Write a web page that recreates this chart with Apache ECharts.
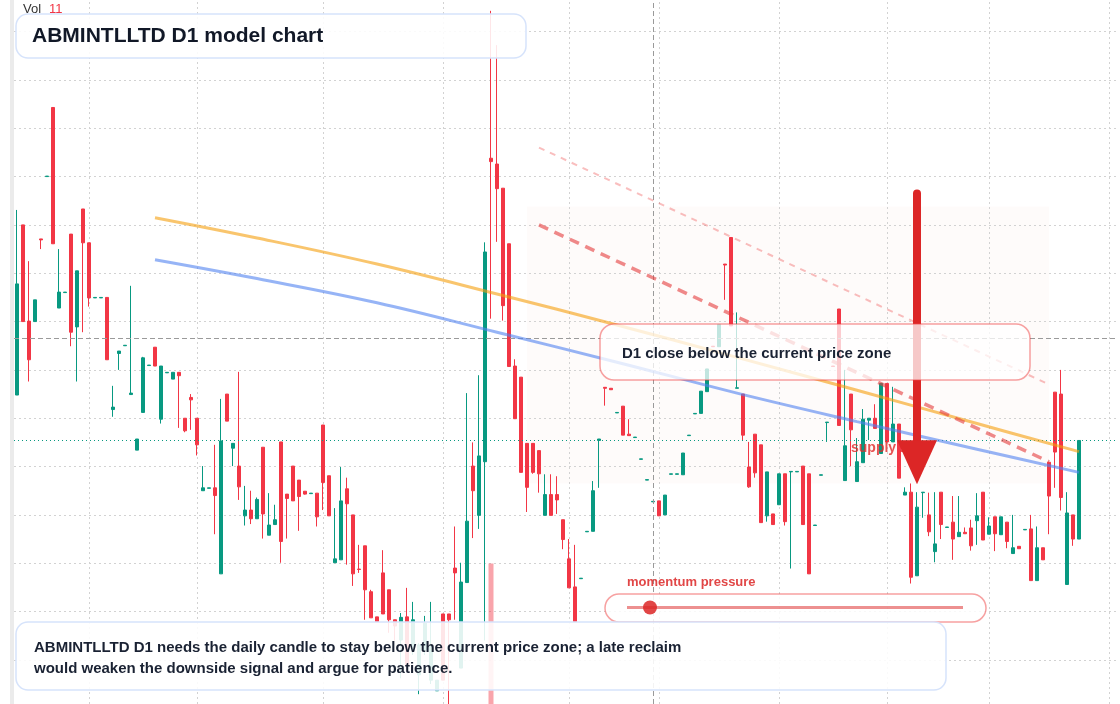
<!DOCTYPE html>
<html>
<head>
<meta charset="utf-8">
<title>ABMINTLLTD D1 model chart</title>
<script src="https://cdn.jsdelivr.net/npm/echarts@6/dist/echarts.min.js"></script>
<style>
  html, body { margin: 0; padding: 0; background: #fff; }
  #main { width: 1120px; height: 704px; }
</style>
</head>
<body>
<div id="main"></div>
<script>
// daily candles: [open, close, low, high]
var candles = [
  [56.48, 58.78, 56.48, 60.31], [60.00, 58.00, 58.00, 60.00], [58.01, 57.21, 56.76, 59.25], [58.00, 58.45, 58.00, 58.45],
  [59.71, 59.69, 59.50, 59.71], [61.00, 61.01, 61.00, 61.01], [62.43, 59.61, 59.61, 62.43], [58.28, 58.61, 58.28, 59.50],
  [58.60, 58.61, 58.60, 58.61], [59.81, 57.78, 57.49, 59.81], [57.89, 59.05, 56.76, 59.05], [60.33, 59.63, 57.78, 60.33],
  [59.63, 58.49, 58.31, 59.63], [58.49, 58.50, 58.49, 58.50], [58.49, 58.50, 58.49, 58.50], [58.50, 57.21, 57.21, 58.50],
  [56.18, 56.23, 56.03, 56.67], [57.34, 57.39, 57.00, 57.39], [57.50, 57.51, 57.50, 57.51], [56.49, 56.52, 56.49, 58.74],
  [55.34, 55.57, 55.34, 55.57], [56.12, 57.25, 56.12, 57.27], [57.09, 57.10, 57.09, 57.10], [57.47, 57.08, 57.08, 57.47],
  [55.98, 57.08, 55.89, 57.08], [56.94, 56.95, 56.94, 56.95], [56.81, 56.95, 56.81, 56.95], [56.95, 56.88, 55.80, 56.95],
  [56.00, 55.74, 55.71, 56.00], [56.43, 56.38, 55.76, 56.50], [56.00, 55.45, 55.23, 56.00], [54.50, 54.56, 54.50, 55.01],
  [54.55, 54.56, 54.55, 54.56], [54.56, 54.40, 53.60, 55.45], [52.78, 55.53, 52.78, 56.40], [56.50, 55.94, 55.94, 56.50],
  [55.38, 55.48, 55.01, 55.48], [55.01, 54.58, 54.31, 56.96], [53.98, 54.10, 53.78, 54.60], [54.10, 53.92, 53.81, 54.50],
  [53.92, 54.32, 53.92, 54.36], [55.40, 54.02, 53.51, 55.40], [53.58, 53.79, 53.58, 54.45], [53.80, 53.90, 53.80, 54.21],
  [55.51, 53.45, 53.01, 55.51], [54.43, 54.34, 53.51, 54.43], [55.01, 54.29, 54.29, 55.01], [54.72, 54.38, 53.67, 54.72],
  [54.49, 54.43, 54.42, 54.49], [54.44, 54.45, 54.44, 54.45], [54.45, 53.96, 53.76, 54.45], [55.86, 54.67, 54.10, 55.86],
  [54.81, 53.98, 53.98, 54.81], [53.01, 53.09, 53.01, 54.14], [53.07, 54.29, 53.07, 54.99], [54.54, 54.23, 52.97, 54.77],
  [54.00, 52.78, 52.53, 54.00], [52.88, 52.87, 52.80, 53.38], [53.36, 52.45, 51.83, 53.36], [52.41, 51.87, 51.87, 52.45],
  [51.89, 51.79, 51.79, 51.89], [52.80, 51.95, 51.95, 53.27], [52.45, 51.83, 51.56, 52.45], [51.83, 51.70, 51.40, 51.83],
  [51.41, 51.88, 50.62, 51.97], [51.89, 50.89, 50.80, 52.49], [51.20, 51.83, 51.10, 52.20], [50.69, 51.31, 50.29, 51.35],
  [51.20, 51.76, 51.10, 51.91], [50.58, 51.29, 50.50, 52.20], [50.36, 50.58, 50.36, 50.58], [51.95, 50.58, 50.58, 51.95],
  [51.95, 51.83, 50.05, 51.95], [52.90, 52.80, 51.83, 53.76], [50.83, 52.61, 50.83, 53.01], [52.60, 53.87, 52.60, 56.52],
  [55.01, 54.50, 53.52, 55.50], [53.99, 55.22, 53.71, 56.89], [55.10, 59.44, 51.40, 59.64], [61.38, 61.31, 58.06, 64.43],
  [61.26, 60.75, 59.65, 63.72], [60.76, 58.33, 58.02, 60.76], [59.61, 57.07, 57.07, 59.61], [57.08, 55.99, 55.99, 57.22],
  [56.85, 54.88, 54.88, 56.85], [55.48, 54.57, 54.06, 55.48], [55.48, 54.88, 54.85, 55.48], [55.33, 54.85, 54.46, 55.33],
  [53.99, 54.42, 53.99, 54.84], [54.42, 53.99, 53.99, 54.84], [54.42, 54.31, 54.02, 54.80], [53.90, 53.49, 53.29, 53.90],
  [53.09, 52.49, 52.49, 53.50], [52.51, 51.79, 51.79, 53.38], [52.68, 52.69, 52.68, 52.69], [53.65, 53.66, 53.65, 53.66],
  [53.66, 54.50, 53.66, 54.70], [55.54, 55.57, 54.56, 55.57], [56.64, 56.62, 56.26, 56.64], [56.62, 56.59, 56.59, 56.62],
  [56.11, 56.12, 56.11, 56.12], [56.25, 55.65, 55.65, 56.25], [55.67, 55.64, 55.64, 55.98], [55.60, 55.61, 55.60, 55.61],
  [55.15, 55.16, 55.15, 55.16], [54.72, 54.73, 54.72, 54.73], [54.27, 54.28, 54.27, 54.28], [54.29, 53.98, 53.98, 54.29],
  [54.00, 54.41, 54.00, 54.41], [54.84, 54.85, 54.84, 54.85], [54.84, 54.85, 54.84, 54.85], [54.83, 55.28, 54.83, 55.28],
  [55.64, 55.65, 55.64, 55.65], [56.09, 56.10, 56.09, 56.10], [56.10, 56.56, 56.10, 56.56], [56.55, 57.02, 56.55, 57.02],
  [57.49, 57.48, 57.48, 57.49], [57.48, 57.94, 57.48, 57.94], [59.19, 59.17, 58.45, 59.19], [59.74, 57.91, 57.91, 59.74],
  [56.62, 56.63, 56.62, 58.19], [56.50, 55.65, 55.55, 56.50], [54.99, 54.58, 54.56, 55.51], [55.67, 54.87, 54.77, 55.67],
  [55.45, 53.84, 53.84, 55.45], [53.98, 54.89, 53.86, 54.89], [54.02, 53.80, 53.80, 54.02], [54.21, 54.85, 54.21, 54.85],
  [54.85, 53.86, 53.78, 54.85], [54.89, 54.90, 52.89, 54.90], [54.89, 54.90, 54.89, 54.90], [55.01, 53.80, 53.80, 55.01],
  [54.85, 52.78, 52.78, 54.85], [53.78, 53.79, 53.78, 53.79], [54.82, 54.83, 54.82, 54.83], [55.91, 55.92, 55.51, 55.92],
  [57.08, 57.07, 57.07, 57.08], [58.26, 55.85, 55.85, 58.26], [54.71, 55.43, 54.71, 57.00], [56.50, 55.76, 55.01, 56.50],
  [54.69, 55.10, 54.69, 55.59], [55.08, 55.98, 55.08, 56.19], [55.96, 56.00, 55.55, 56.00], [56.00, 55.79, 55.79, 56.29],
  [55.27, 56.72, 55.27, 56.72], [56.72, 55.51, 55.51, 56.72], [55.51, 55.88, 55.51, 56.65], [55.88, 54.76, 54.76, 55.88],
  [54.41, 54.47, 54.41, 54.57], [54.47, 52.71, 52.58, 54.65], [52.74, 54.16, 52.74, 54.47], [54.46, 54.47, 53.94, 54.47],
  [54.00, 53.65, 53.56, 54.46], [53.24, 53.40, 53.02, 54.47], [54.47, 53.80, 53.50, 54.47], [53.74, 53.75, 53.74, 53.75],
  [53.85, 53.50, 53.07, 54.39], [53.55, 53.64, 53.55, 54.39], [53.64, 53.61, 53.61, 53.74], [53.73, 53.36, 53.26, 53.90],
  [53.88, 53.98, 53.38, 54.45], [54.47, 53.48, 53.48, 54.47], [53.60, 53.77, 53.60, 53.95], [53.96, 53.61, 53.25, 53.96],
  [53.59, 53.96, 53.59, 53.96], [53.85, 53.45, 53.31, 53.85], [53.20, 53.32, 53.20, 54.00], [53.35, 53.30, 53.30, 53.35],
  [53.69, 53.70, 53.69, 53.70], [53.71, 52.64, 52.64, 54.00], [52.64, 53.32, 52.64, 53.76], [53.32, 53.07, 53.07, 53.32],
  [55.09, 54.39, 53.60, 55.09], [56.54, 55.30, 54.56, 56.54], [56.50, 54.36, 54.09, 57.00], [52.56, 54.04, 52.56, 54.47],
  [54.00, 53.50, 53.36, 54.00], [53.50, 55.54, 53.50, 55.54]
];

// 184 daily slots, the last few are empty space on the right
var days = [];
for (var d = 0; d < 184; d++) days.push('d' + d);

// month boundaries on the time scale (category index)
var monthTicks = [12, 30, 51, 71, 92, 107, 127, 145, 162, 182];
// price grid levels
var priceTicks = [51, 52, 53, 54, 55, 56, 57, 58, 59, 60, 61, 62, 63, 64];
// visible price window
var priceMin = 50.087, priceMax = 64.654;

// volume histogram, only the spike reaches into view
var volume = [[79, 68.9]];

// smoothed averages, [index, price]
var maSlow = [[23, 60.15], [40, 59.73], [60, 59.19], [80, 58.57], [100, 57.93], [120, 57.26], [140, 56.58], [160, 55.89], [177, 55.31]];
var maFast = [[23, 59.28], [40, 58.89], [60, 58.39], [80, 57.78], [100, 57.16], [120, 56.52], [140, 55.93], [160, 55.36], [177, 54.88]];

// descending channel
var channelTop = [[87, 61.60], [172, 56.70]];
var channelMid = [[87, 60.00], [172, 55.10]];

// supply zone and signal arrow
var zoneX = [85, 172];
var zoneY = [54.65, 60.38];
var arrowX = 150;
var arrowY = [60.65, 55.09];

var crossIdx = 106;
var crossPrice = 57.66;
var lastPrice = 55.54;

var UP = '#089981', DOWN = '#f23645';
var GRID = { color: '#d2d2d2', type: [2, 3], width: 1 };
var FONT = '"Liberation Sans", Arial, sans-serif';

var hiddenCat = {
  type: 'category', data: days, boundaryGap: true,
  axisLine: { show: false }, axisTick: { show: false }, axisLabel: { show: false }, splitLine: { show: false }
};

var gridLines = monthTicks.map(function (i) { return { xAxis: i }; })
  .concat(priceTicks.map(function (p) { return { yAxis: p }; }));

var chart = echarts.init(document.getElementById('main'));
chart.setOption({
  animation: false,
  backgroundColor: '#ffffff',
  grid: [
    { left: 14, right: 2, top: 0, bottom: 0 },
    { left: 14, right: 2, top: 500, bottom: 0 }
  ],
  xAxis: [
    Object.assign({}, hiddenCat),
    Object.assign({}, hiddenCat, { gridIndex: 1 })
  ],
  yAxis: [
    {
      type: 'value', min: priceMin, max: priceMax,
      axisLine: { show: false }, axisTick: { show: false }, axisLabel: { show: false }, splitLine: { show: false }
    },
    { type: 'value', gridIndex: 1, min: 0, max: 100, show: false, splitLine: { show: false } }
  ],
  series: [
    {
      // background helpers: grid lines + supply zone
      type: 'line', data: [], z: 1, silent: true,
      markLine: {
        z: 1, silent: true, symbol: 'none', label: { show: false }, precision: 3,
        lineStyle: GRID,
        data: gridLines
      },
      markArea: {
        z: 1, silent: true,
        itemStyle: { color: 'rgba(240,170,140,0.045)' },
        data: [[{ xAxis: zoneX[0], yAxis: zoneY[1] }, { xAxis: zoneX[1], yAxis: zoneY[0] }]]
      }
    },
    {
      type: 'bar', xAxisIndex: 1, yAxisIndex: 1, data: volume, barWidth: 5, silent: true, z: 2,
      itemStyle: { color: 'rgba(242,54,69,0.45)' }
    },
    {
      type: 'candlestick', data: candles, barWidth: 4, z: 3, silent: true,
      itemStyle: { color: UP, color0: DOWN, borderColor: UP, borderColor0: DOWN, borderWidth: 1 },
      markLine: {
        z: 4, silent: true, symbol: 'none', label: { show: false }, precision: 3,
        data: [
          { yAxis: crossPrice, lineStyle: { color: '#9a9a9a', type: [5, 3], width: 1 } },
          { xAxis: crossIdx, lineStyle: { color: '#9a9a9a', type: [5, 3], width: 1 } },
          { yAxis: lastPrice, lineStyle: { color: UP, type: [1, 3], width: 1 } }
        ]
      }
    },
    {
      type: 'line', data: maSlow, smooth: 0.4, symbol: 'none', z: 4, silent: true,
      lineStyle: { color: 'rgba(245,158,11,0.6)', width: 3 }
    },
    {
      type: 'line', data: maFast, smooth: 0.4, symbol: 'none', z: 4, silent: true,
      lineStyle: { color: 'rgba(80,130,240,0.6)', width: 3 }
    },
    {
      type: 'line', data: channelTop, symbol: 'none', z: 4, silent: true,
      lineStyle: { color: 'rgba(239,68,68,0.35)', width: 2, type: [6, 6] }
    },
    {
      type: 'line', data: channelMid, symbol: 'none', z: 4, silent: true,
      lineStyle: { color: 'rgba(228,60,60,0.6)', width: 3.5, type: [10, 7] }
    },
    {
      type: 'line', data: [], z: 6, silent: true,
      markLine: {
        z: 6, silent: true, symbol: ['none', 'triangle'], symbolSize: [40, 44], label: { show: false },
        itemStyle: { color: '#dc2626' },
        lineStyle: { color: '#dc2626', width: 8, type: 'solid', cap: 'round' },
        data: [[{ coord: [arrowX, arrowY[0]] }, { coord: [arrowX, arrowY[1]] }]]
      }
    }
  ],
  graphic: [
    { type: 'rect', z: 100, shape: { x: 10, y: 0, width: 4, height: 704 }, style: { fill: '#ebebeb' } },
    { type: 'text', z: 100, style: { text: 'Vol', x: 23, y: 9, font: '13px ' + FONT, fill: '#333333', verticalAlign: 'middle' } },
    { type: 'text', z: 100, style: { text: '11', x: 49, y: 9, font: '13px ' + FONT, fill: '#f23645', verticalAlign: 'middle' } },
    { type: 'text', z: 5, style: { text: 'supply zone', x: 851, y: 448, font: 'bold 14px ' + FONT, fill: 'rgba(225,40,40,0.8)', verticalAlign: 'middle' } },
    {
      type: 'rect', z: 100, shape: { x: 16, y: 14, width: 510, height: 44, r: 12 },
      style: { fill: 'rgba(255,255,255,0.88)', stroke: '#d6e3fb', lineWidth: 1.5 }
    },
    { type: 'text', z: 101, style: { text: 'ABMINTLLTD D1 model chart', x: 32, y: 36, font: 'bold 21px ' + FONT, fill: '#111827', verticalAlign: 'middle' } },
    {
      type: 'rect', z: 100, shape: { x: 600, y: 324, width: 430, height: 56, r: 14 },
      style: { fill: 'rgba(255,255,255,0.75)', stroke: 'rgba(239,68,68,0.5)', lineWidth: 1.5 }
    },
    { type: 'text', z: 101, style: { text: 'D1 close below the current price zone', x: 622, y: 354, font: 'bold 15px ' + FONT, fill: '#1a2233', verticalAlign: 'middle' } },
    { type: 'text', z: 101, style: { text: 'momentum pressure', x: 627, y: 582, font: 'bold 13px ' + FONT, fill: 'rgba(220,38,38,0.85)', verticalAlign: 'middle' } },
    {
      type: 'rect', z: 100, shape: { x: 605, y: 594, width: 381, height: 28, r: 14 },
      style: { fill: 'rgba(255,255,255,0.85)', stroke: 'rgba(239,68,68,0.5)', lineWidth: 1.5 }
    },
    { type: 'line', z: 101, shape: { x1: 627, y1: 607.5, x2: 963, y2: 607.5 }, style: { stroke: 'rgba(225,70,70,0.6)', lineWidth: 3 } },
    { type: 'circle', z: 102, shape: { cx: 650, cy: 607.5, r: 7 }, style: { fill: 'rgba(220,38,38,0.85)' } },
    {
      type: 'rect', z: 100, shape: { x: 16, y: 622, width: 930, height: 68, r: 12 },
      style: { fill: 'rgba(255,255,255,0.88)', stroke: '#d6e3fb', lineWidth: 1.5 }
    },
    {
      type: 'text', z: 101,
      style: {
        text: 'ABMINTLLTD D1 needs the daily candle to stay below the current price zone; a late reclaim\nwould weaken the downside signal and argue for patience.',
        x: 34, y: 637, font: 'bold 15px ' + FONT, fill: '#1a2233', lineHeight: 21
      }
    }
  ]
});
</script>
</body>
</html>
